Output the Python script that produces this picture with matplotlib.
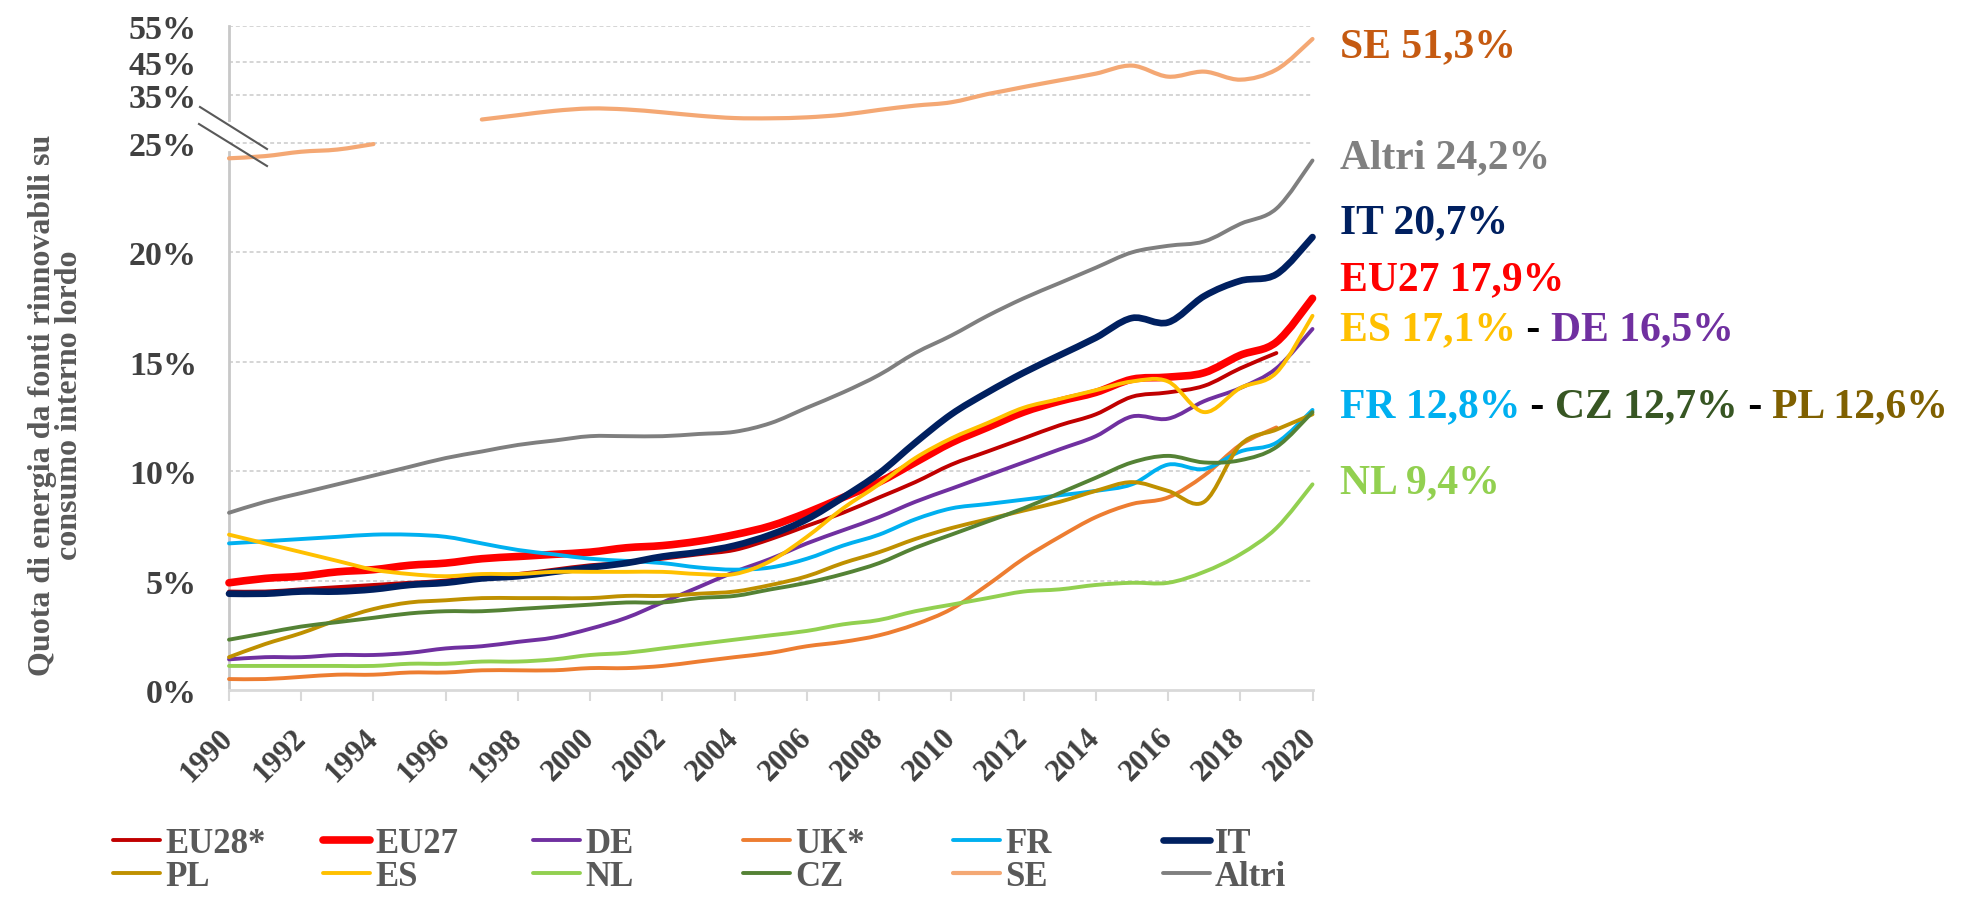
import numpy as np
import matplotlib
matplotlib.use("Agg")
import matplotlib.pyplot as plt
from matplotlib.path import Path
from matplotlib.patches import PathPatch
from matplotlib.lines import Line2D

plt.rcParams["font.family"] = ["Liberation Serif", "DejaVu Serif"]
plt.rcParams["font.weight"] = "bold"

# ── Data (share of renewables in gross inland consumption, %) ─────────────────
years = list(range(1990, 2021))

eu28 = [4.5, 4.5, 4.6, 4.7, 4.8, 4.9, 5.0, 5.2, 5.3, 5.5, 5.7, 5.8, 6.0, 6.2, 6.4,
        6.9, 7.5, 8.1, 8.8, 9.5, 10.3, 10.9, 11.5, 12.1, 12.6, 13.4, 13.6, 13.9,
        14.7, 15.4]
eu27 = [4.9, 5.1, 5.2, 5.4, 5.5, 5.7, 5.8, 6.0, 6.1, 6.2, 6.3, 6.5, 6.6, 6.8, 7.1,
        7.5, 8.1, 8.8, 9.5, 10.4, 11.3, 12.0, 12.7, 13.2, 13.6, 14.2, 14.3, 14.5,
        15.3, 15.9, 17.9]
de = [1.4, 1.5, 1.5, 1.6, 1.6, 1.7, 1.9, 2.0, 2.2, 2.4, 2.8, 3.3, 4.0, 4.7, 5.4,
      6.0, 6.7, 7.3, 7.9, 8.6, 9.2, 9.8, 10.4, 11.0, 11.6, 12.5, 12.4, 13.2, 13.8,
      14.7, 16.5]
uk = [0.5, 0.5, 0.6, 0.7, 0.7, 0.8, 0.8, 0.9, 0.9, 0.9, 1.0, 1.0, 1.1, 1.3, 1.5,
      1.7, 2.0, 2.2, 2.5, 3.0, 3.7, 4.8, 6.0, 7.0, 7.9, 8.5, 8.8, 9.8, 11.2, 12.0]
fr = [6.7, 6.8, 6.9, 7.0, 7.1, 7.1, 7.0, 6.7, 6.4, 6.2, 6.0, 5.9, 5.8, 5.6, 5.5,
      5.6, 6.0, 6.6, 7.1, 7.8, 8.3, 8.5, 8.7, 8.9, 9.1, 9.4, 10.3, 10.1, 10.9,
      11.3, 12.8]
it = [4.4, 4.4, 4.5, 4.5, 4.6, 4.8, 4.9, 5.1, 5.2, 5.4, 5.6, 5.8, 6.1, 6.3, 6.6,
      7.1, 7.8, 8.8, 9.9, 11.3, 12.6, 13.6, 14.5, 15.3, 16.1, 17.0, 16.8, 18.0,
      18.7, 19.0, 20.7]
pl = [1.5, 2.1, 2.6, 3.2, 3.7, 4.0, 4.1, 4.2, 4.2, 4.2, 4.2, 4.3, 4.3, 4.4, 4.5,
      4.8, 5.2, 5.8, 6.3, 6.9, 7.4, 7.8, 8.2, 8.6, 9.1, 9.5, 9.1, 8.6, 11.2, 11.9,
      12.6]
es = [7.1, 6.7, 6.3, 5.9, 5.5, 5.3, 5.2, 5.3, 5.3, 5.4, 5.4, 5.4, 5.4, 5.3, 5.3,
      5.9, 7.0, 8.3, 9.4, 10.6, 11.5, 12.2, 12.9, 13.3, 13.7, 14.1, 14.1, 12.7,
      13.8, 14.5, 17.1]
nl = [1.1, 1.1, 1.1, 1.1, 1.1, 1.2, 1.2, 1.3, 1.3, 1.4, 1.6, 1.7, 1.9, 2.1, 2.3,
      2.5, 2.7, 3.0, 3.2, 3.6, 3.9, 4.2, 4.5, 4.6, 4.8, 4.9, 4.9, 5.4, 6.2, 7.4, 9.4]
cz = [2.3, 2.6, 2.9, 3.1, 3.3, 3.5, 3.6, 3.6, 3.7, 3.8, 3.9, 4.0, 4.0, 4.2, 4.3,
      4.6, 4.9, 5.3, 5.8, 6.5, 7.1, 7.7, 8.3, 9.0, 9.7, 10.4, 10.7, 10.4, 10.5,
      11.1, 12.7]
# SE: the line is interrupted where the axis is broken
se = [24.3, 24.4, 24.6, 24.7, 24.95, np.nan, np.nan, 29.9, 30.8, 31.7, 32.2, 32.0,
      31.4, 30.7, 30.2, 30.15, 30.35, 30.9, 31.9, 32.8, 33.5, 35.3, 37.4, 39.4,
      41.4, 43.8, 40.5, 42.0, 39.6, 42.6, 51.3]
altri = [8.1, 8.6, 9.0, 9.4, 9.8, 10.2, 10.6, 10.9, 11.2, 11.4, 11.6, 11.6, 11.6,
         11.7, 11.8, 12.2, 12.9, 13.6, 14.4, 15.4, 16.2, 17.1, 17.9, 18.6, 19.3,
         20.0, 20.3, 20.5, 21.3, 22.0, 24.2]

# name, values, line colour, line width (pt) -- legend order (row-major)
series = [
    ("EU28*", eu28, "#C00000", 2.8),
    ("EU27", eu27, "#FF0000", 5.5),
    ("DE", de, "#7030A0", 2.8),
    ("UK*", uk, "#ED7D31", 2.8),
    ("FR", fr, "#00B0F0", 2.8),
    ("IT", it, "#002060", 4.8),
    ("PL", pl, "#BF9000", 2.8),
    ("ES", es, "#FFC000", 2.8),
    ("NL", nl, "#92D050", 2.8),
    ("CZ", cz, "#548235", 2.8),
    ("SE", se, "#F4A874", 3.0),
    ("Altri", altri, "#7F7F7F", 2.8),
]

# right-hand end labels: (text, colour) pieces per line, baseline in px
end_labels = [
    [("SE 51,3%", "#C55A11")],
    [("Altri 24,2%", "#808080")],
    [("IT 20,7%", "#002060")],
    [("EU27 17,9%", "#FF0000")],
    [("ES 17,1%", "#FFC000"), (" - ", "#000000"), ("DE 16,5%", "#7030A0")],
    [("FR 12,8%", "#00B0F0"), (" - ", "#000000"), ("CZ 12,7%", "#375623"),
     (" - ", "#000000"), ("PL 12,6%", "#7F6000")],
    [("NL 9,4%", "#92D050")],
]
end_baselines = [57, 168, 233, 290, 340, 417, 493]

y_ticks = [0, 5, 10, 15, 20, 25, 35, 45, 55]

# broken y axis: 0-25 % linear, 25-55 % compressed
brk_val = [-100, 0, 25, 35, 45, 55, 200]
brk_pos = [-100, 0, 25, 27.19, 28.72, 30.36, 175.36]


def fwd(v):
    return np.interp(v, brk_val, brk_pos)


def inv(u):
    return np.interp(u, brk_pos, brk_val)


def smooth_path(x, y):
    """Excel-like smoothed line: Catmull-Rom segments as cubic Beziers."""
    n = len(x)
    verts = [(x[0], y[0])]
    codes = [Path.MOVETO]
    for i in range(n - 1):
        xa, ya = (x[i - 1], y[i - 1]) if i > 0 else (x[i], y[i])
        xd, yd = (x[i + 2], y[i + 2]) if i + 2 < n else (x[i + 1], y[i + 1])
        c1 = (x[i] + (x[i + 1] - xa) / 6, y[i] + (y[i + 1] - ya) / 6)
        c2 = (x[i + 1] - (xd - x[i]) / 6, y[i + 1] - (yd - y[i]) / 6)
        verts += [c1, c2, (x[i + 1], y[i + 1])]
        codes += [Path.CURVE4] * 3
    return Path(verts, codes)


W, H = 1962, 904
fig = plt.figure(figsize=(W / 100, H / 100), dpi=100)
ax = fig.add_axes([229 / W, 1 - 691 / H, (1312.5 - 229) / W, (691 - 26.7) / H])
ax.set_yscale("function", functions=(fwd, inv))
ax.set_xlim(1990, 2020)
ax.set_ylim(0, 55)

# gridlines
for t in y_ticks[1:]:
    ax.axhline(t, color="#D2D2D2", lw=1.3, dashes=(2.2, 1.6), zorder=1)

# series
for name, vals, col, lw in series:
    x = np.array(years[:len(vals)], dtype=float)
    y = np.array(vals, dtype=float)
    idx = np.where(~np.isnan(y))[0]
    runs = np.split(idx, np.where(np.diff(idx) > 1)[0] + 1)   # split on gaps
    for r in runs:
        p = PathPatch(smooth_path(x[r], y[r]), fill=False, edgecolor=col,
                      lw=lw, capstyle="round", joinstyle="round", zorder=3)
        p.set_clip_on(False)
        ax.add_patch(p)

# axes styling
for s in ["top", "right", "left"]:
    ax.spines[s].set_visible(False)
ax.spines["bottom"].set_color("#D9D9D9")
ax.spines["bottom"].set_linewidth(2)
ax.spines["bottom"].set_zorder(2)

# left axis drawn in two pieces around the break
ax.plot([0, 0], [0, 24.6], transform=ax.get_yaxis_transform(), color="#C8C8C8",
        lw=2, clip_on=False, zorder=2)
ax.plot([0, 0], [29.8, 55], transform=ax.get_yaxis_transform(), color="#C8C8C8",
        lw=2, clip_on=False, zorder=2)

ax.set_yticks(y_ticks)
ax.set_yticklabels([f"{t}%" for t in y_ticks])
ax.yaxis.set_minor_locator(matplotlib.ticker.NullLocator())
ax.tick_params(axis="y", length=0, pad=23, labelsize=24.5, labelcolor="#404040")

ax.set_xticks(years[::2])
ax.set_xticklabels([str(y) for y in years[::2]], rotation=45, ha="right",
                   va="center", rotation_mode="anchor")
ax.tick_params(axis="x", length=8, width=1.5, color="#D9D9D9", pad=23,
               labelsize=22, labelcolor="#404040")

# break marks on the y axis
for (x0, y0, x1, y1) in [(200, 108, 267, 150), (199, 125, 267, 167)]:
    fig.add_artist(Line2D([x0 / W, x1 / W], [1 - y0 / H, 1 - y1 / H],
                          transform=fig.transFigure, color="#595959", lw=1.5))

# y label
fig.text(56 / W, 1 - 405 / H,
         "Quota di energia da fonti rinnovabili su\nconsumo interno lordo",
         rotation=90, ha="center", va="center", multialignment="center",
         fontsize=23, color="#595959", linespacing=0.9)

# end-of-line labels, built piece by piece
for pieces, base in zip(end_labels, end_baselines):
    prev = None
    for txt, col in pieces:
        if prev is None:
            prev = fig.text(1340 / W, 1 - base / H, txt, color=col, fontsize=30,
                            va="baseline", ha="left")
        else:
            prev = ax.annotate(txt, xy=(1, 0), xycoords=prev, va="bottom",
                               ha="left", color=col, fontsize=30,
                               annotation_clip=False)

# legend: 6 evenly spaced columns, 2 rows
for c in range(6):
    hs, ls = [], []
    for r in range(2):
        name, vals, col, lw = series[r * 6 + c]
        hs.append(Line2D([], [], color=col, lw=lw, solid_capstyle="round"))
        ls.append(name)
    fig.legend(hs, ls, loc="upper left",
               bbox_to_anchor=((113 + 210 * c) / W, 1 - 828 / H),
               frameon=False, handlelength=1.35, handletextpad=0.15,
               labelspacing=0.0, borderpad=0, borderaxespad=0,
               prop={"family": "Liberation Serif", "weight": "bold", "size": 25},
               labelcolor="#595959")

fig.savefig("out.png", dpi=100)
